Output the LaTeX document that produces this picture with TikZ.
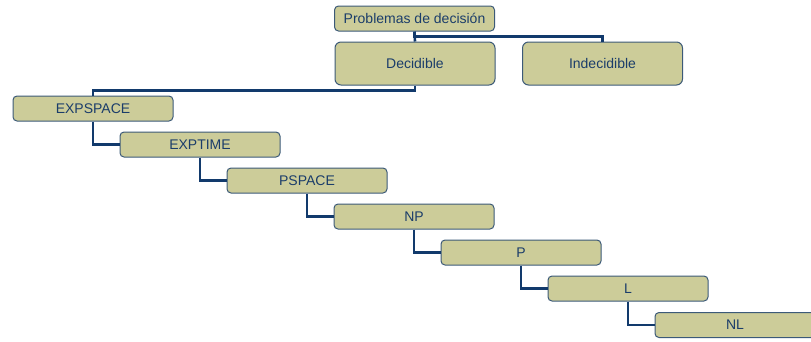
\documentclass[tikz,border=0pt]{standalone}
\usepackage{fontspec}
\setmainfont{Liberation Sans}
\definecolor{boxfill}{HTML}{CCCC99}
\definecolor{boxdraw}{HTML}{3C5A78}
\definecolor{linecol}{HTML}{123A6C}
\definecolor{textcol}{HTML}{1B3D6A}
\tikzset{
  smallbox/.style={draw=boxdraw, fill=boxfill, line width=1pt, rounded corners=4pt,
    minimum width=160pt, minimum height=25pt, inner sep=0pt, text=textcol,
    font=\fontsize{14}{16}\selectfont},
  bigbox/.style={smallbox, minimum height=43pt, rounded corners=6pt},
  conn/.style={draw=linecol, line width=2.6pt}
}
\begin{document}
\begin{tikzpicture}[x=1pt,y=-1pt]
\useasboundingbox (0,0) rectangle (811,341);
\clip (0,0) rectangle (811,341);
\node[smallbox] (top) at (414.5,18.5) {Problemas de decisión};
\node[bigbox] (dec) at (415,63.5) {Decidible};
\node[bigbox] (ind) at (602.5,63.5) {Indecidible};
\node[smallbox] (expspace) at (93,108.5) {EXPSPACE};
\node[smallbox] (exptime) at (200,144.5) {EXPTIME};
\node[smallbox] (pspace) at (307,180.5) {PSPACE};
\node[smallbox] (np) at (414,216.5) {NP};
\node[smallbox] (p) at (521,252.5) {P};
\node[smallbox] (l) at (628,288.5) {L};
\node[smallbox] (nl) at (735,325) {NL};
\draw[conn] (top.south) -- (dec.north);
\draw[conn] (top.south) -- ++(0,5) -| (ind.north);
\draw[conn] (dec.south) -- ++(0,5) -| (expspace.north);
\draw[conn] (expspace.south) |- (exptime.west);
\draw[conn] (exptime.south) |- (pspace.west);
\draw[conn] (pspace.south) |- (np.west);
\draw[conn] (np.south) |- (p.west);
\draw[conn] (p.south) |- (l.west);
\draw[conn] (l.south) |- (nl.west);
\end{tikzpicture}
\end{document}
